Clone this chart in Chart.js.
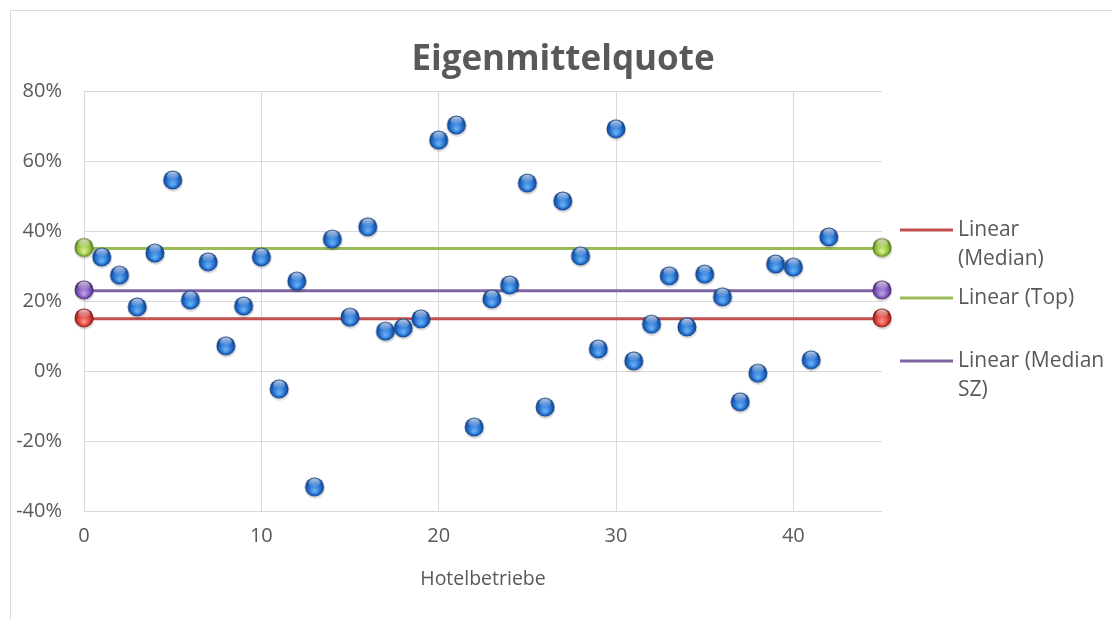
<!DOCTYPE html>
<html>
<head>
<meta charset="utf-8">
<script src="https://cdn.jsdelivr.net/npm/chart.js@4.4.0/dist/chart.umd.min.js"></script>
<style>
  html, body { margin: 0; padding: 0; background: #fff; overflow: hidden; }
  #wrap { position: absolute; left: 0; top: 0; width: 1112px; height: 619px; }
</style>
</head>
<body>
<div id="wrap"><canvas id="chart" width="1112" height="619"></canvas></div>
<script>
// Hotel numbers and equity ratio (%)
const hotelNr = [1, 2, 3, 4, 5, 6, 7, 8, 9, 10, 11, 12, 13, 14, 15, 16, 17, 18, 19, 20, 21,
                 22, 23, 24, 25, 26, 27, 28, 29, 30, 31, 32, 33, 34, 35, 36, 37, 38, 39, 40, 41, 42];
const quote = [32.3, 27.1, 18.0, 33.4, 54.3, 20.0, 30.9, 6.9, 18.3, 32.3, -5.4, 25.4, -33.4, 37.4,
               15.1, 40.9, 11.1, 12.0, 14.6, 65.7, 70.0, -16.3, 20.3, 24.3, 53.4, -10.6, 48.3,
               32.6, 6.0, 68.9, 2.6, 13.1, 26.9, 12.3, 27.4, 20.9, -9.1, -0.9, 30.3, 29.4, 2.9, 38.0];

// reference lines (start and end on x axis)
const lineX = [0, 45];
const lineNames = ['Linear (Median)', 'Linear (Top)', 'Linear (Median SZ)'];
const lineValues = [14.9, 35.0, 22.9];
const lineColors = ['#C0504D', '#9BBB59', '#8064A2'];

const yTicks = [-40, -20, 0, 20, 40, 60, 80];
const xTicks = [0, 10, 20, 30, 40];

const FONT = '"Open Sans", Calibri, sans-serif';
const TEXT = '#595959';

// little 3d ball used as point style
function ball(base, light, dark) {
    const r = 9.5;
    const s = 26;
    const c = document.createElement('canvas');
    c.width = s; c.height = s;
    const g = c.getContext('2d');
    const cx = s / 2, cy = s / 2 - 1;
    g.fillStyle = 'rgba(0,0,0,0.12)';
    g.beginPath(); g.arc(cx + 0.5, cy + 2, r + 0.5, 0, Math.PI * 2); g.fill();
    const grd = g.createRadialGradient(cx, cy + r * 0.45, r * 0.1, cx, cy, r);
    grd.addColorStop(0, light);
    grd.addColorStop(0.65, base);
    grd.addColorStop(1, dark);
    g.fillStyle = grd;
    g.beginPath(); g.arc(cx, cy, r, 0, Math.PI * 2); g.fill();
    const hl = g.createLinearGradient(0, cy - r, 0, cy);
    hl.addColorStop(0, 'rgba(255,255,255,0.8)');
    hl.addColorStop(1, 'rgba(255,255,255,0)');
    g.fillStyle = hl;
    g.beginPath(); g.ellipse(cx, cy - r * 0.45, r * 0.62, r * 0.45, 0, 0, Math.PI * 2); g.fill();
    return c;
}

const blueBall = ball('#1F68C8', '#62AEF6', '#0F3A78');
const lineBalls = [
    ball('#D23A34', '#FF8A80', '#7A1512'),
    ball('#8DBB3A', '#D4F08A', '#4E6E14'),
    ball('#7A52B3', '#B99BEA', '#3E2468')
];

const datasets = [{
    label: 'Eigenmittelquote',
    data: hotelNr.map((x, i) => ({ x: x, y: quote[i] })),
    pointStyle: blueBall,
    showLine: false,
    clip: false
}];
lineNames.forEach((name, i) => {
    datasets.push({
        label: name,
        data: lineX.map(x => ({ x: x, y: lineValues[i] })),
        showLine: true,
        borderColor: lineColors[i],
        borderWidth: 3,
        pointStyle: lineBalls[i],
        clip: false
    });
});

// draws frame, title, axis title and legend
const decor = {
    id: 'decor',
    beforeDraw(chart) {
        const c = chart.ctx;
        c.save();
        c.strokeStyle = '#d9d9d9';
        c.lineWidth = 1;
        c.strokeRect(10.5, 10.5, 1200, 700);
        c.restore();
    },
    afterDraw(chart) {
        const c = chart.ctx;
        const a = chart.chartArea;
        c.save();
        c.fillStyle = TEXT;
        c.textAlign = 'center';
        c.textBaseline = 'middle';
        c.font = 'bold 35px ' + FONT;
        c.fillText('Eigenmittelquote', 563, 60);
        c.font = '19.5px ' + FONT;
        c.fillText('Hotelbetriebe', (a.left + a.right) / 2, 579);

        // legend
        c.font = '21px ' + FONT;
        c.textAlign = 'left';
        const tops = [229, 297, 360];
        const maxW = 1108 - 958;
        lineNames.forEach((name, i) => {
            const words = name.split(' ');
            const rows = [];
            let cur = '';
            words.forEach(w => {
                const t = cur ? cur + ' ' + w : w;
                if (c.measureText(t).width > maxW && cur) { rows.push(cur); cur = w; } else cur = t;
            });
            rows.push(cur);
            c.strokeStyle = lineColors[i];
            c.lineWidth = 3;
            c.beginPath(); c.moveTo(900, tops[i] + 1); c.lineTo(953, tops[i] + 1); c.stroke();
            rows.forEach((r, k) => c.fillText(r, 958, tops[i] + 1 + k * 29));
        });
        c.restore();
    }
};

new Chart(document.getElementById('chart'), {
    type: 'scatter',
    data: { datasets: datasets },
    options: {
        responsive: false,
        animation: false,
        layout: { padding: { top: 91, right: 230, left: 0, bottom: 0 }, autoPadding: false },
        plugins: { legend: { display: false }, tooltip: { enabled: false } },
        elements: { point: { radius: 9.5 } },
        scales: {
            x: {
                min: 0, max: 45,
                afterFit(s) { s.height = 108; },
                afterBuildTicks(s) { s.ticks = xTicks.map(v => ({ value: v })); },
                grid: { color: '#d9d9d9', drawTicks: false },
                border: { display: false },
                ticks: { color: TEXT, font: { family: FONT, size: 20 }, padding: 13 }
            },
            y: {
                min: -40, max: 80,
                afterFit(s) { s.width = 84; },
                afterBuildTicks(s) { s.ticks = yTicks.map(v => ({ value: v })); },
                grid: { color: '#d9d9d9', drawTicks: false },
                border: { display: false },
                ticks: { color: TEXT, font: { family: FONT, size: 20 }, padding: 22, callback: v => v + '%' }
            }
        }
    },
    plugins: [decor]
});
</script>
</body>
</html>
